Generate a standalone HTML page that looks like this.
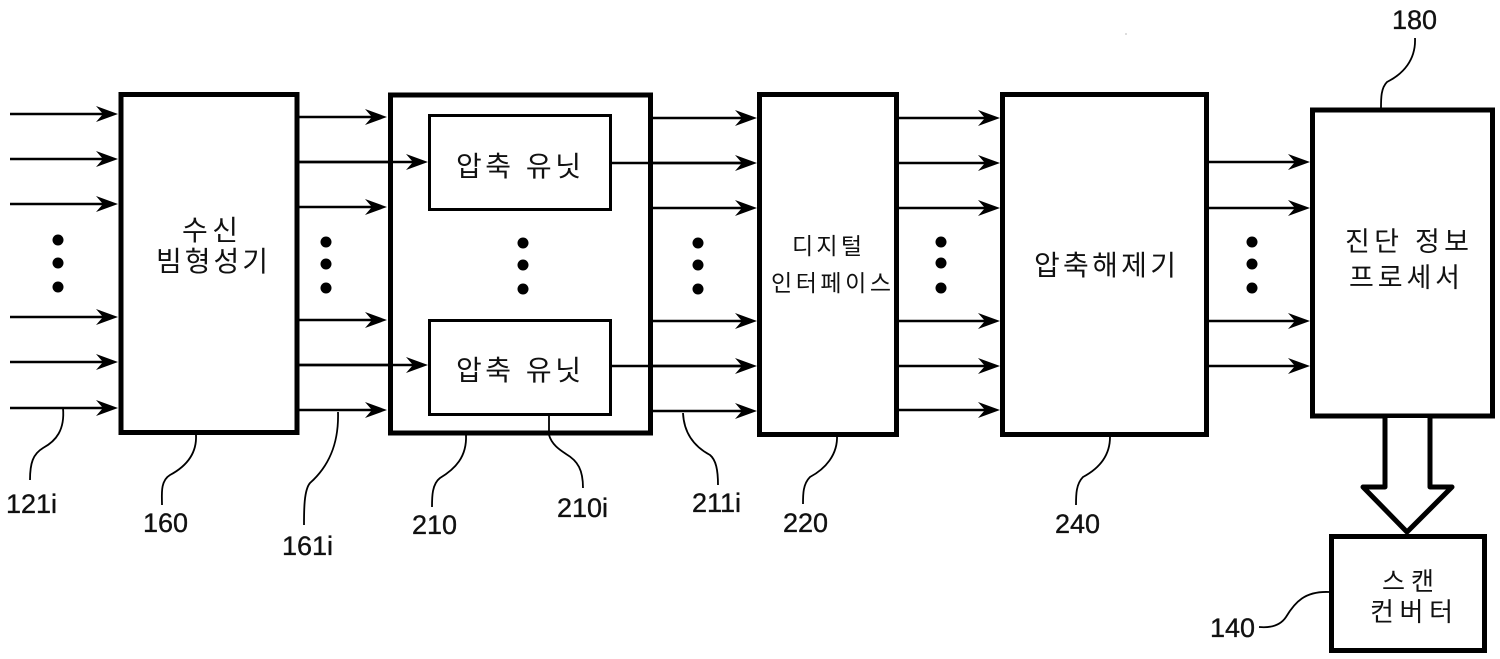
<!DOCTYPE html>
<html lang="ko">
<head>
<meta charset="utf-8">
<title>Diagram</title>
<style>
html,body{margin:0;padding:0;background:#fff;width:1500px;height:659px;overflow:hidden}
svg{display:block}
.box{fill:#fff;stroke:#000;stroke-width:5}
.inner{fill:#fff;stroke:#000;stroke-width:3}
.ln{stroke:#000;stroke-width:2.4;fill:none}
.lead{stroke:#000;stroke-width:1.8;fill:none}
.k{font-family:"Liberation Sans","Noto Sans CJK KR",sans-serif;fill:#111}
.n{font-family:"Liberation Sans",sans-serif;font-size:27px;fill:#111;stroke:#111;stroke-width:.35}
</style>
</head>
<body>
<svg width="1500" height="659" viewBox="0 0 1500 659" xmlns="http://www.w3.org/2000/svg">
<defs>
<path id="h" d="M0,0 L-22,-8 L-15,0 L-22,8 Z" fill="#000"/>
</defs>

<!-- arrow lines -->
<g class="ln">
<path d="M10,114H110M10,159H110M10,204H110M10,317H110M10,362H110M10,408H110"/>
<path d="M298,117H380M298,162H420M298,207H380M298,320H380M298,365H420M298,410H380"/>
<path d="M652,118H750M612,163H750M652,208H750M652,321H750M612,366H750M652,411H750"/>
<path d="M897,118H992M897,163H992M897,208H992M897,321H992M897,366H992M897,410H992"/>
<path d="M1205,162H1303M1205,208H1303M1205,321H1303M1205,366H1303"/>
</g>

<!-- boxes -->
<rect class="box" x="121" y="94.5" width="176" height="338"/>
<rect class="box" x="390.5" y="95" width="260" height="338"/>
<path class="ln" d="M298,162H420M298,365H420M612,163H750M612,366H750"/>
<rect class="inner" x="429.5" y="115.5" width="181" height="94"/>
<rect class="inner" x="429.5" y="320.5" width="181" height="94"/>
<rect class="box" x="759.5" y="94.5" width="137" height="340"/>
<rect class="box" x="1002.5" y="94.5" width="204" height="340"/>
<rect class="box" x="1312.5" y="110" width="180" height="306"/>
<rect class="box" x="1331.5" y="536.5" width="153" height="114"/>

<!-- arrowheads -->
<use href="#h" x="118" y="114"/><use href="#h" x="118" y="159"/><use href="#h" x="118" y="204"/>
<use href="#h" x="118" y="317"/><use href="#h" x="118" y="362"/><use href="#h" x="118" y="408"/>
<use href="#h" x="387" y="117"/><use href="#h" x="428" y="162"/><use href="#h" x="387" y="207"/>
<use href="#h" x="387" y="320"/><use href="#h" x="428" y="365"/><use href="#h" x="387" y="410"/>
<use href="#h" x="757" y="118"/><use href="#h" x="757" y="163"/><use href="#h" x="757" y="208"/>
<use href="#h" x="757" y="321"/><use href="#h" x="757" y="366"/><use href="#h" x="757" y="411"/>
<use href="#h" x="1000" y="118"/><use href="#h" x="1000" y="163"/><use href="#h" x="1000" y="208"/>
<use href="#h" x="1000" y="321"/><use href="#h" x="1000" y="366"/><use href="#h" x="1000" y="410"/>
<use href="#h" x="1310" y="162"/><use href="#h" x="1310" y="208"/>
<use href="#h" x="1310" y="321"/><use href="#h" x="1310" y="366"/>

<!-- dots -->
<g fill="#000">
<circle cx="58" cy="240" r="5.5"/><circle cx="58" cy="263" r="5.5"/><circle cx="58" cy="287" r="5.5"/>
<circle cx="326" cy="242" r="5.5"/><circle cx="326" cy="264" r="5.5"/><circle cx="326" cy="288" r="5.5"/>
<circle cx="523" cy="243" r="5.5"/><circle cx="523" cy="265" r="5.5"/><circle cx="523" cy="289" r="5.5"/>
<circle cx="698" cy="243" r="5.5"/><circle cx="698" cy="265" r="5.5"/><circle cx="698" cy="289" r="5.5"/>
<circle cx="941" cy="242" r="5.5"/><circle cx="941" cy="263" r="5.5"/><circle cx="941" cy="288" r="5.5"/>
<circle cx="1252" cy="242" r="5.5"/><circle cx="1252" cy="264" r="5.5"/><circle cx="1252" cy="288" r="5.5"/>
</g>

<!-- block arrow -->
<path d="M1385,418V487H1363L1407,532L1452,487H1430V418" fill="#fff" stroke="#000" stroke-width="5" stroke-linejoin="round"/>

<!-- leaders -->
<g class="lead">
<path d="M63,408C65,430 56,441 43,448C33,454 30,463 30,480"/>
<path d="M196,435C197,455 185,467 170,475C160,481 162,495 162,505"/>
<path d="M338,412C339,445 328,467 310,483C304,490 304,510 304,525"/>
<path d="M466,435C467,457 455,469 440,478C432,484 432,497 432,507"/>
<path d="M549,415V435C552,445 560,450 566,454C578,461 583,470 583,488"/>
<path d="M683,413C684,434 695,447 710,455C716,460 718,470 718,485"/>
<path d="M837,435C838,455 825,469 810,477C803,484 803,494 803,504"/>
<path d="M1110,437C1110,457 1098,469 1083,477C1076,484 1076,495 1076,505"/>
<path d="M1415,38C1416,60 1403,74 1387,82C1381,88 1381,98 1381,108"/>
<path d="M1259,627C1270,628 1280,626 1286,617C1295,602 1305,591 1329,592"/>
</g>

<!-- Korean labels -->
<text class="k" x="182" y="240" font-size="28" textLength="56">수신</text>
<text class="k" x="156" y="271" font-size="28" textLength="112">빔형성기</text>
<text class="k" x="456" y="176" font-size="28" textLength="125">압축 유닛</text>
<text class="k" x="456" y="380" font-size="28" textLength="125">압축 유닛</text>
<text class="k" x="792" y="254" font-size="23" textLength="70">디지털</text>
<text class="k" x="771" y="291" font-size="23" textLength="120">인터페이스</text>
<text class="k" x="1034" y="275" font-size="28" textLength="142">압축해제기</text>
<text class="k" x="1345" y="251" font-size="27" textLength="124">진단 정보</text>
<text class="k" x="1349" y="287" font-size="27" textLength="111">프로세서</text>
<text class="k" x="1382" y="590" font-size="25" textLength="52">스캔</text>
<text class="k" x="1370" y="621" font-size="26" textLength="83">컨버터</text>

<!-- numeric labels -->
<text class="n" x="6" y="513">121i</text>
<text class="n" x="143" y="532">160</text>
<text class="n" x="282" y="555">161i</text>
<text class="n" x="412" y="534">210</text>
<text class="n" x="557" y="517">210i</text>
<text class="n" x="692" y="512">211i</text>
<text class="n" x="783" y="532">220</text>
<text class="n" x="1055" y="533">240</text>
<text class="n" x="1392" y="29">180</text>
<text class="n" x="1210" y="637">140</text>

<circle cx="1126" cy="34" r="0.6" fill="#888"/>
</svg>
</body>
</html>
